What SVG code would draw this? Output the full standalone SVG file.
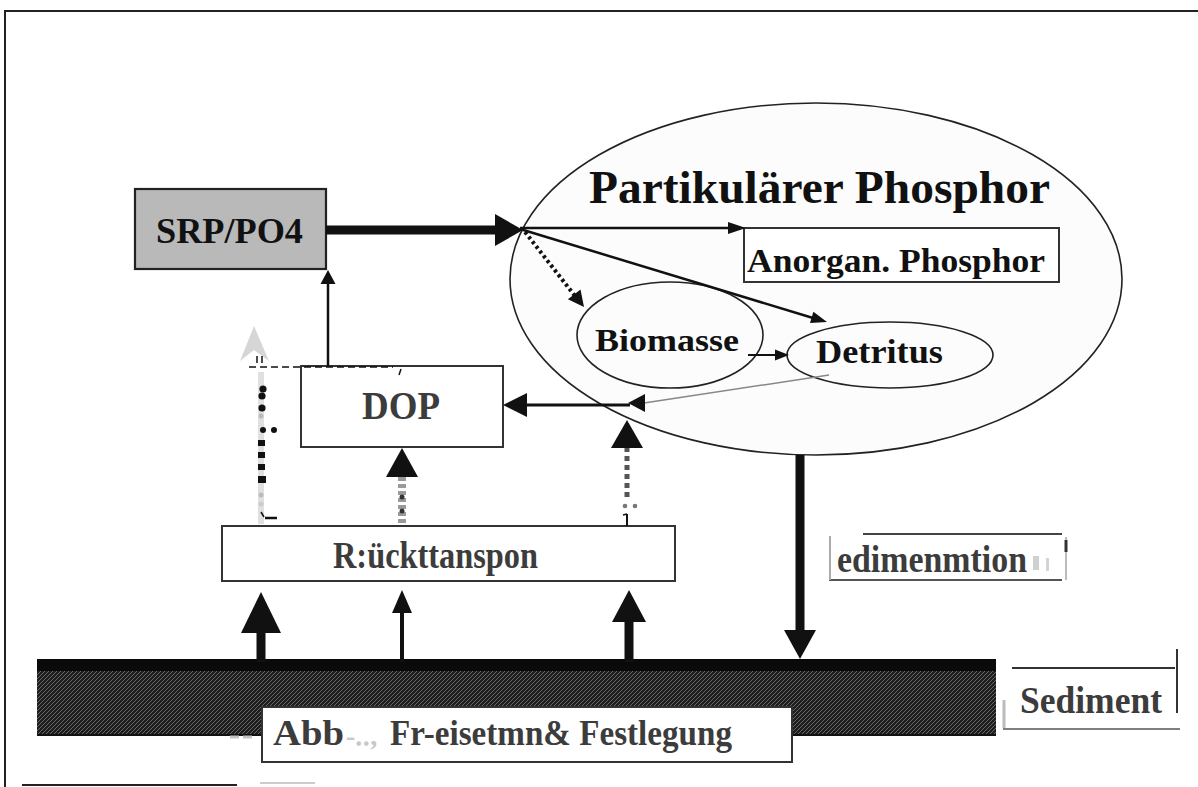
<svg xmlns="http://www.w3.org/2000/svg" width="1198" height="787" viewBox="0 0 1198 787">
<defs>
<pattern id="hatch" patternUnits="userSpaceOnUse" width="4" height="4">
<rect width="4" height="4" fill="#1e1e1e"/>
<path d="M0,4 L4,0 M-1,1 L1,-1 M3,5 L5,3" stroke="#7a7a7a" stroke-width="0.8"/>
</pattern>
<style>
.t{font-family:"Liberation Serif","Times New Roman",serif;font-weight:bold}
.blk{fill:#111}
.gry{fill:#3c3c3c}
.box{fill:#fff;stroke:#333;stroke-width:2}
.ln{stroke:#111;fill:none}
.hd{fill:#111}
</style>
</defs>
<rect width="1198" height="787" fill="#fff"/>
<g id="frame">
<line x1="4" y1="11" x2="1198" y2="11" stroke="#222" stroke-width="2"/>
<line x1="5" y1="11" x2="5" y2="787" stroke="#222" stroke-width="2"/>
<line x1="22" y1="785" x2="237" y2="785" stroke="#222" stroke-width="2"/>
<line x1="260" y1="783" x2="315" y2="783" stroke="#ccc" stroke-width="2"/>
</g>
<g id="partikulaer">
<ellipse cx="816" cy="279" rx="306" ry="176" fill="#fcfcfc" stroke="#222" stroke-width="1.6"/>
<text class="t blk" x="589" y="203" font-size="47" textLength="461" lengthAdjust="spacingAndGlyphs">Partikulärer Phosphor</text>
</g>
<g id="anorgan">
<rect x="744" y="228" width="315" height="54" class="box" stroke-width="1.8"/>
<text class="t blk" x="747" y="272" font-size="33" textLength="298" lengthAdjust="spacingAndGlyphs">Anorgan. Phosphor</text>
</g>
<g id="biomasse">
<ellipse cx="670" cy="335" rx="93" ry="53" fill="none" stroke="#222" stroke-width="1.6"/>
<text class="t blk" x="595" y="351" font-size="32" textLength="144" lengthAdjust="spacingAndGlyphs">Biomasse</text>
</g>
<g id="detritus">
<ellipse cx="890" cy="355" rx="103" ry="33" fill="none" stroke="#222" stroke-width="1.6"/>
<text class="t blk" x="816" y="363" font-size="34" textLength="127" lengthAdjust="spacingAndGlyphs">Detritus</text>
</g>
<g id="srp">
<rect x="135" y="189" width="191" height="80" fill="#b9b9b9" stroke="#222" stroke-width="2.2"/>
<text class="t blk" x="156" y="243" font-size="36" textLength="147" lengthAdjust="spacingAndGlyphs">SRP/PO4</text>
</g>
<g id="dop">
<rect x="301" y="366" width="202" height="81" class="box"/>
<text class="t gry" x="362" y="419" font-size="40" textLength="78" lengthAdjust="spacingAndGlyphs">DOP</text>
</g>
<g id="ruecktransport">
<rect x="222" y="526" width="453" height="55" class="box" stroke-width="1.6"/>
<text class="t gry" x="333" y="568" font-size="38" textLength="205" lengthAdjust="spacingAndGlyphs">R:ückttanspon</text>
</g>
<g id="sedimentation">
<line x1="863" y1="534" x2="1062" y2="534" stroke="#444" stroke-width="2"/>
<line x1="829" y1="580" x2="1062" y2="580" stroke="#555" stroke-width="2"/>
<line x1="830" y1="536" x2="830" y2="580" stroke="#aaa" stroke-width="2"/>
<line x1="1066" y1="537" x2="1066" y2="580" stroke="#bbb" stroke-width="2"/>
<line x1="1066" y1="540" x2="1066" y2="552" stroke="#333" stroke-width="3"/>
<text class="t gry" x="837" y="572" font-size="38" textLength="190" lengthAdjust="spacingAndGlyphs">edimenmtion</text>
<rect x="1033" y="556" width="6" height="14" fill="#d0d0d0"/>
<rect x="1046" y="558" width="3" height="13" fill="#d4d4d4"/>
</g>
<g id="sediment">
<rect x="37" y="660" width="959" height="75" fill="url(#hatch)"/>
<rect x="37" y="659" width="959" height="12" fill="#0a0a0a"/>
<line x1="37" y1="735" x2="996" y2="735" stroke="#111" stroke-width="2"/>
<line x1="1012" y1="668" x2="1175" y2="668" stroke="#333" stroke-width="2"/>
<line x1="1003" y1="729" x2="1180" y2="729" stroke="#555" stroke-width="1.5"/>
<line x1="1177" y1="649" x2="1177" y2="713" stroke="#333" stroke-width="2"/>
<line x1="1004" y1="700" x2="1004" y2="728" stroke="#bbb" stroke-width="3"/>
<text class="t gry" x="1020" y="713" font-size="38" textLength="142" lengthAdjust="spacingAndGlyphs">Sediment</text>
</g>
<g id="abbau">
<line x1="230" y1="737" x2="253" y2="737" stroke="#c4c4c4" stroke-width="3" stroke-dasharray="9,4"/>
<rect x="262" y="707" width="530" height="55" class="box"/>
<text class="t gry" x="273" y="745" font-size="35" textLength="71" lengthAdjust="spacingAndGlyphs">Abb</text>
<text class="t" x="346" y="745" font-size="28" fill="#c8c8c8">-‥,</text>
<text class="t gry" x="390" y="745" font-size="35" textLength="342" lengthAdjust="spacingAndGlyphs">Fr-eisetmn&amp; Festlegung</text>
</g>
<g id="connectors">
<line x1="326" y1="230" x2="497" y2="230" class="ln" stroke-width="9"/>
<polygon points="523,230 495,214 495,246" class="hd"/>
<line x1="520" y1="228" x2="730" y2="228" class="ln" stroke-width="2.5"/>
<polygon points="746,228 728,222 728,234" class="hd"/>
<line x1="520" y1="229" x2="813" y2="318" class="ln" stroke-width="2.5"/>
<polygon points="827,322 810,323.1 813.4,311.7" class="hd"/>
<line x1="525" y1="232" x2="575" y2="296" class="ln" stroke-width="4" stroke-dasharray="3,3"/>
<polygon points="584,307 567.9,299.3 580.5,289.5" class="hd"/>
<line x1="748" y1="355" x2="777" y2="355" class="ln" stroke-width="2"/>
<polygon points="789,355 775,349.5 775,360.5" class="hd"/>
<line x1="829" y1="375" x2="644" y2="403" stroke="#888" stroke-width="1.5"/>
<polygon points="628,403 645,394 645,412" class="hd"/>
<line x1="630" y1="405" x2="525" y2="405" class="ln" stroke-width="3"/>
<polygon points="503,405 527,393 527,417" class="hd"/>
<line x1="328" y1="366" x2="328" y2="281" class="ln" stroke-width="2.5"/>
<polygon points="328,270 320.5,284 335.5,284" class="hd"/>
<line x1="261" y1="372" x2="261" y2="524" stroke="#e0e0e0" stroke-width="6"/>
<polygon points="254,326 240,361 254,350 269,361" fill="#d6d6d6"/>
<line x1="249" y1="367" x2="393" y2="367" class="ln" stroke-width="1.5" stroke-dasharray="7,4"/>
<line x1="257" y1="356" x2="257" y2="363" class="ln" stroke-width="1.5"/>
<line x1="262" y1="356" x2="262" y2="363" class="ln" stroke-width="1.5"/>
<line x1="401" y1="369" x2="399" y2="375" class="ln" stroke-width="1.5"/>
<circle cx="263" cy="389" r="3.6" fill="#111"/>
<circle cx="262" cy="396" r="3.6" fill="#111"/>
<circle cx="262" cy="408" r="3.6" fill="#111"/>
<circle cx="261" cy="416" r="2.5" fill="#bbb"/>
<circle cx="263" cy="430" r="3" fill="#111"/>
<circle cx="274" cy="430" r="3" fill="#111"/>
<rect x="258" y="440" width="7" height="6" fill="#111"/>
<rect x="258" y="452" width="7" height="6" fill="#111"/>
<rect x="258" y="464" width="7" height="6" fill="#111"/>
<rect x="258" y="476" width="8" height="7" fill="#111"/>
<circle cx="261" cy="495" r="2.5" fill="#bbb"/>
<circle cx="261" cy="504" r="2.5" fill="#ccc"/>
<line x1="261" y1="512" x2="264" y2="517" class="ln" stroke-width="1.5"/>
<line x1="265" y1="518" x2="277" y2="518" class="ln" stroke-width="2.5"/>
<line x1="402" y1="477" x2="402" y2="526" stroke="#9a9a9a" stroke-width="8" stroke-dasharray="4,3"/>
<circle cx="402" cy="497" r="2.5" fill="#333"/>
<circle cx="402" cy="511" r="2.5" fill="#333"/>
<polygon points="402,448 386,477 418,477" class="hd"/>
<line x1="627" y1="447" x2="627" y2="497" stroke="#555" stroke-width="5" stroke-dasharray="5,4"/>
<polygon points="627,420 611,448 643,448" class="hd"/>
<circle cx="625" cy="506" r="2.3" fill="#777"/>
<circle cx="635" cy="506" r="2.3" fill="#777"/>
<line x1="627" y1="514" x2="627" y2="526" class="ln" stroke-width="2"/>
<line x1="623" y1="515" x2="627" y2="514" class="ln" stroke-width="1.5"/>
<line x1="261" y1="662" x2="261" y2="630" class="ln" stroke-width="9"/>
<polygon points="261,592 241,633 281,633" class="hd"/>
<line x1="402" y1="662" x2="402" y2="610" class="ln" stroke-width="4"/>
<polygon points="402,590 392,613 412,613" class="hd"/>
<line x1="629" y1="662" x2="629" y2="619" class="ln" stroke-width="9"/>
<polygon points="629,590 612,622 646,622" class="hd"/>
<line x1="800" y1="455" x2="800" y2="633" class="ln" stroke-width="9"/>
<polygon points="800,659 784,630 816,630" class="hd"/>
</g>
</svg>
